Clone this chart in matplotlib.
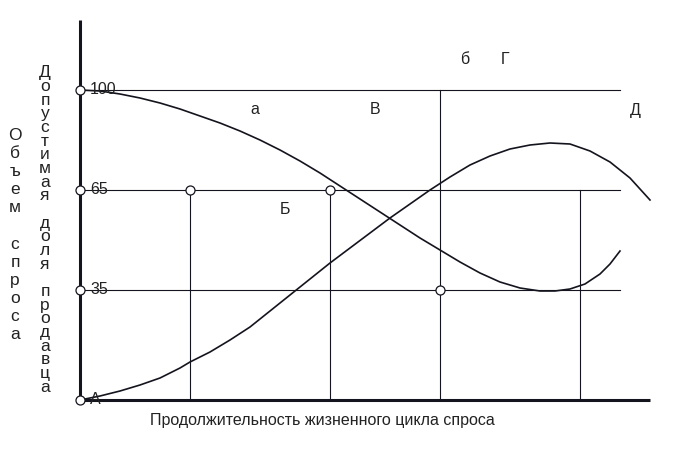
import matplotlib.pyplot as plt

plt.rcParams['font.family'] = ['Liberation Sans', 'DejaVu Sans']

# уровни (позиция на схеме и подпись)
level_pos = [110, 210, 310]
level_lbl = ['35', '65', '100']
level_end = 540

# вертикальные линии: x и верхний конец
vert_x = [110, 250, 360, 500]
vert_top = [210, 210, 310, 210]

# кривая допустимой доли продавца
c1_x = [0, 20, 40, 60, 80, 100, 120, 140, 160, 180, 200, 220, 240, 260, 280, 300, 320,
        340, 360, 380, 400, 420, 440, 460, 475, 490, 505, 520, 530, 540]
c1_y = [310, 309, 306, 302, 297, 291, 284, 277, 269, 260, 250, 239, 227, 214, 201, 188, 175,
        162, 150, 138, 127, 118, 112, 109, 109, 111, 116, 126, 136, 149]

# кривая объема спроса
c2_x = [0, 20, 40, 60, 80, 100, 110, 130, 150, 170, 190, 210, 230, 250, 270, 290, 310, 330,
        350, 370, 390, 410, 430, 450, 470, 490, 510, 530, 550, 570]
c2_y = [0, 4, 9, 15, 22, 32, 38, 48, 60, 73, 89, 105, 121, 137, 152, 167, 182, 196,
        210, 223, 235, 244, 251, 255, 257, 256, 249, 238, 222, 200]

# точки (кружки)
pt_x = [0, 0, 0, 0, 110, 250, 360]
pt_y = [0, 110, 210, 310, 210, 210, 110]

col = '#14141e'

fig = plt.figure(figsize=(7, 4.5), dpi=100)
ax = fig.add_axes([0, 0, 1, 1])
ax.set_xlim(-80, 620)
ax.set_ylim(-50, 400)
ax.axis('off')

# оси
ax.plot([0, 0], [0, 380], color=col, lw=2.2, solid_capstyle='butt')
ax.plot([0, 570], [0, 0], color=col, lw=2.2, solid_capstyle='butt')

for y in level_pos:
    ax.plot([0, level_end], [y, y], color=col, lw=0.8)
for x, t in zip(vert_x, vert_top):
    ax.plot([x, x], [0, t], color=col, lw=0.8)

ax.plot(c1_x, c1_y, color=col, lw=1.2)
ax.plot(c2_x, c2_y, color=col, lw=1.2)

ax.plot(pt_x, pt_y, 'o', ms=6.5, mfc='white', mec=col, mew=0.9, zorder=5)

fs = 11.5
for y, s in zip(level_pos, level_lbl):
    ax.text(10, y, s, fontsize=fs, va='center', ha='left', color='#222')
ax.text(10, 0, 'А', fontsize=fs, va='center', ha='left', color='#222')

for x, y, s in [(175, 290, 'а'), (295, 290, 'В'), (385, 340, 'б'), (425, 340, 'Г'),
                (555, 290, 'Д'), (205, 190, 'Б')]:
    ax.text(x, y, s, fontsize=fs, ha='center', va='center', color='#222')

ax.text(242, -20, 'Продолжительность жизненного цикла спроса', fontsize=fs,
        ha='center', va='center', color='#222')

ax.text(-65, 165, '\n'.join('Объем спроса'), fontsize=12.5, ha='center', va='center',
        linespacing=1.26, color='#222')
ax.text(-35, 170, '\n'.join('Допустимая доля продавца'), fontsize=12.5, ha='center', va='center',
        linespacing=0.89, color='#222')

fig.savefig('out.png', dpi=100)
